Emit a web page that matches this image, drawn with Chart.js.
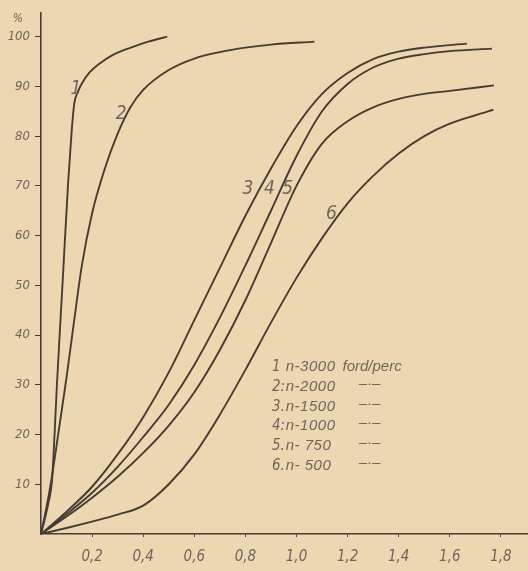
<!DOCTYPE html>
<html>
<head>
<meta charset="utf-8">
<script src="https://cdn.jsdelivr.net/npm/chart.js@4"></script>
<style>
  html, body { margin: 0; padding: 0; background: #EDD7B2; }
  #wrap { width: 528px; height: 571px; }
</style>
</head>
<body>
<div id="wrap"><canvas id="c" width="528" height="571"></canvas></div>
<script>
// ---- data ----
const x1 = [0, 0.015, 0.03, 0.043, 0.053, 0.063, 0.085, 0.106, 0.12, 0.13, 0.145, 0.16, 0.19, 0.227, 0.28, 0.357, 0.42, 0.494];
const y1 = [0, 3, 6.5, 10.7, 20, 30.7, 51, 70.5, 81, 86.5, 89, 90.6, 92.8, 94.5, 96.3, 97.9, 99, 100];

const x2 = [0, 0.02, 0.04, 0.07, 0.1, 0.13, 0.16, 0.2, 0.25, 0.3, 0.35, 0.4, 0.5, 0.6, 0.7, 0.8, 0.9, 1.07];
const y2 = [0, 5, 10.7, 21, 31.5, 43, 54, 64.5, 73.5, 80.5, 85.8, 89.3, 93.3, 95.6, 96.9, 97.8, 98.4, 99];

const x3 = [0, 0.1, 0.2, 0.3, 0.4, 0.5, 0.6, 0.7, 0.8, 0.9, 1.0, 1.1, 1.2, 1.3, 1.4, 1.5, 1.667];
const y3 = [0, 4.5, 9.5, 16, 23.5, 32.5, 43, 53.5, 64, 73.5, 82, 88.5, 92.7, 95.5, 97, 97.8, 98.6];

const x4 = [0, 0.1, 0.2, 0.3, 0.4, 0.5, 0.6, 0.7, 0.8, 0.9, 1.0, 1.1, 1.2, 1.3, 1.4, 1.5, 1.6, 1.765];
const y4 = [0, 4, 8.3, 13.5, 19.5, 26, 34, 43.5, 54, 65, 76, 85, 90.5, 93.8, 95.6, 96.5, 97.1, 97.6];

const x5 = [0, 0.1, 0.2, 0.3, 0.4, 0.5, 0.6, 0.7, 0.8, 0.9, 1.0, 1.1, 1.2, 1.3, 1.4, 1.5, 1.6, 1.773];
const y5 = [0, 3.5, 7.3, 11.5, 16.3, 21.8, 28.5, 37, 47, 58.5, 70, 78.5, 83, 85.8, 87.5, 88.5, 89.1, 90.2];

const x6 = [0, 0.1, 0.2, 0.3, 0.4, 0.5, 0.6, 0.7, 0.8, 0.9, 1.0, 1.1, 1.2, 1.3, 1.4, 1.5, 1.6, 1.7, 1.77];
const y6 = [0, 1.2, 2.5, 3.9, 5.7, 10, 16, 24, 33, 42.5, 51.5, 59.5, 66.5, 72, 76.5, 80, 82.5, 84.2, 85.3];

const curveNames = ["1", "2", "3", "4", "5", "6"];
const yTickValues = [10, 20, 30, 40, 50, 60, 70, 80, 90, 100];
const xTickValues = [0.2, 0.4, 0.6, 0.8, 1.0, 1.2, 1.4, 1.6, 1.8];

const legendNums = ["1", "2:", "3.", "4:", "5.", "6."];
const legendSpeeds = ["n-3000", "n-2000", "n-1500", "n-1000", "n- 750", "n- 500"];
const legendUnit = "ford/perc";
const dittoMark = "–·–";

// ---- annotation placement (data coordinates) ----
const curveLabelPos = [[0.137, 90], [0.314, 85], [0.81, 70], [0.894, 70], [0.965, 70], [1.137, 65]];
const legendPos = { numX: 0.904, textX: 0.958, unitX: 1.18, dittoX: 1.286, firstY: 32.7, stepY: 3.95 };

const INK = '#463c34';
const TEXT = '#6e665c';
const NARROW = "'Liberation Sans Narrow', 'DejaVu Sans Condensed', 'Liberation Sans', sans-serif";

function pts(xs, ys) { return xs.map((x, i) => ({ x: x, y: ys[i] })); }

const series = [[x1, y1], [x2, y2], [x3, y3], [x4, y4], [x5, y5], [x6, y6]];

const datasets = series.map((s, i) => ({
  label: curveNames[i],
  data: pts(s[0], s[1]),
  borderColor: INK,
  borderWidth: 1.9,
  pointRadius: 0,
  fill: false,
  cubicInterpolationMode: 'monotone'
}));

const annot = {
  id: 'annot',
  beforeDraw(chart) {
    const ctx = chart.ctx;
    ctx.save();
    ctx.fillStyle = '#EDD7B2';
    ctx.fillRect(0, 0, chart.width, chart.height);
    ctx.restore();
  },
  afterDatasetsDraw(chart) {
    const ctx = chart.ctx;
    const xs = chart.scales.x, ys = chart.scales.y;
    ctx.save();
    ctx.fillStyle = TEXT;
    // curve numbers
    ctx.font = "italic 19px " + NARROW;
    ctx.textAlign = 'center';
    ctx.textBaseline = 'alphabetic';
    curveLabelPos.forEach((p, i) => {
      ctx.fillText(curveNames[i], xs.getPixelForValue(p[0]), ys.getPixelForValue(p[1]) + 8);
    });
    // legend block
    ctx.textAlign = 'left';
    legendNums.forEach((n, i) => {
      const by = ys.getPixelForValue(legendPos.firstY - i * legendPos.stepY);
      ctx.font = "italic 15px " + NARROW;
      try { ctx.letterSpacing = '0px'; } catch (e) {}
      ctx.fillText(n, xs.getPixelForValue(legendPos.numX), by);
      ctx.font = "italic 15px 'Liberation Sans', 'DejaVu Sans', sans-serif";
      try { ctx.letterSpacing = '0.5px'; } catch (e) {}
      ctx.fillText(legendSpeeds[i], xs.getPixelForValue(legendPos.textX), by);
      try { ctx.letterSpacing = '0px'; } catch (e) {}
      if (i === 0) {
        ctx.fillText(legendUnit, xs.getPixelForValue(legendPos.unitX), by);
      } else {
        ctx.textAlign = 'center';
        ctx.fillText(dittoMark, xs.getPixelForValue(legendPos.dittoX), by - 3);
        ctx.textAlign = 'left';
      }
    });
    // percent sign above the y axis
    ctx.font = "italic 12px " + NARROW;
    ctx.textAlign = 'center';
    ctx.fillText('%', chart.chartArea.left - 23, chart.chartArea.top + 9);
    ctx.restore();
  }
};

new Chart(document.getElementById('c'), {
  type: 'line',
  data: { datasets: datasets },
  plugins: [annot],
  options: {
    responsive: false,
    animation: false,
    layout: { padding: { top: 8, right: 0, left: 0, bottom: 0 } },
    plugins: { legend: { display: false }, tooltip: { enabled: false } },
    scales: {
      x: {
        type: 'linear',
        min: 0,
        max: 1.906,
        afterFit(scale) { scale.height = 37; },
        afterBuildTicks(scale) { scale.ticks = xTickValues.map(v => ({ value: v })); },
        border: { display: true, color: INK, width: 1.6 },
        grid: { drawOnChartArea: false, drawTicks: true, tickLength: 3, color: INK },
        ticks: {
          autoSkip: false,
          maxRotation: 0,
          padding: 11,
          color: TEXT,
          font: { family: NARROW, size: 15, style: 'italic' },
          callback: v => v.toFixed(1).replace('.', ',')
        }
      },
      y: {
        type: 'linear',
        min: 0,
        max: 104.8,
        afterFit(scale) { scale.width = 41; },
        afterBuildTicks(scale) { scale.ticks = yTickValues.map(v => ({ value: v })); },
        border: { display: true, color: INK, width: 1.6 },
        grid: { drawOnChartArea: false, drawTicks: true, tickLength: 6, color: INK },
        ticks: {
          autoSkip: false,
          padding: 5,
          color: TEXT,
          font: { family: NARROW, size: 13, style: 'italic' },
          callback: v => String(v)
        }
      }
    }
  }
});
</script>
</body>
</html>
